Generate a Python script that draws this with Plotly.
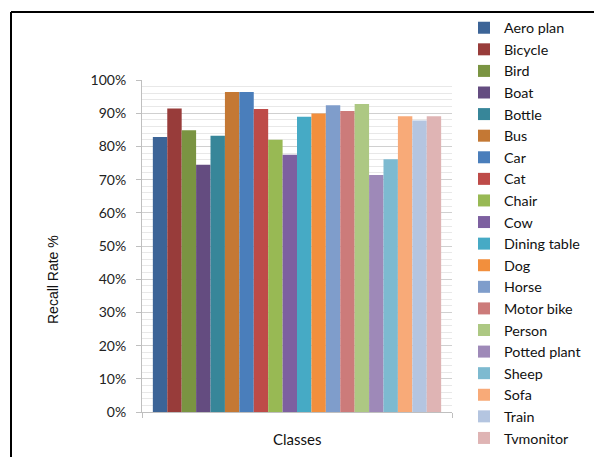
import plotly.graph_objects as go

classes = ["Aero plan", "Bicycle", "Bird", "Boat", "Bottle", "Bus", "Car", "Cat",
           "Chair", "Cow", "Dining table", "Dog", "Horse", "Motor bike", "Person",
           "Potted plant", "Sheep", "Sofa", "Train", "Tvmonitor"]
recall = [82.8, 91.4, 84.9, 74.5, 83.2, 96.4, 96.4, 91.3, 82.0, 77.5,
          88.9, 89.9, 92.4, 90.7, 92.8, 71.4, 76.1, 89.1, 87.8, 89.1]
colors = ["#3C6497", "#983C3A", "#7A9442", "#644C80", "#378699", "#C47834",
          "#4A7EBB", "#BE4B48", "#98B954", "#7D60A0", "#46AAC5", "#F28F3D",
          "#7F9DCB", "#CC7B7A", "#ADC883", "#9E89B8", "#7DBAD0", "#F8AA78",
          "#B4C5E0", "#DFB4B4"]

fig = go.Figure()
for i, (c, v, col) in enumerate(zip(classes, recall, colors)):
    fig.add_trace(go.Bar(x=[0], y=[v / 100], name=c, marker_color=col,
                         marker_line_width=0))

fig.update_layout(
    width=594, height=457,
    margin=dict(l=142, r=142, t=80, b=45, autoexpand=False),
    paper_bgcolor="white", plot_bgcolor="white",
    barmode="group", bargap=0.07, bargroupgap=0,
    font=dict(family="Lato", size=13, color="#222"),
    showlegend=True,
    legend=dict(x=(464 - 142) / 310, xanchor="left", y=1.205, yanchor="top",
                font=dict(family="Lato", size=14.3, color="#111"),
                itemwidth=30, bgcolor="rgba(0,0,0,0)", maxheight=460,
                traceorder="normal"),
    xaxis=dict(range=[-0.5, 0.5], tickvals=[-0.5, 0.5], ticktext=["", ""],
               ticks="outside", ticklen=5, tickcolor="#BFBFBF",
               showline=True, linecolor="#BFBFBF", linewidth=1,
               showgrid=False, zeroline=False, fixedrange=True),
    yaxis=dict(range=[0, 1], dtick=0.1, tickformat=".0%",
               ticks="outside", ticklen=5, tickcolor="#BFBFBF",
               showline=True, linecolor="#BFBFBF", linewidth=1,
               showgrid=True, gridcolor="#D0D0D0", gridwidth=1,
               minor=dict(dtick=0.02, showgrid=True, gridcolor="#E8E8E8", gridwidth=1),
               zeroline=False, ticklabelstandoff=7,
               tickfont=dict(family="Lato", size=14, color="#222")),
    annotations=[
        dict(text="Recall Rate %", xref="paper", yref="paper", x=(53 - 142) / 310,
             y=(412 - 280) / 332, showarrow=False, textangle=-90,
             font=dict(family="Liberation Sans", size=14, color="#111"),
             xanchor="center", yanchor="middle"),
        dict(text="Classes", xref="paper", yref="paper", x=(297 - 142) / 310,
             y=(412 - 439) / 332, showarrow=False,
             font=dict(family="Lato", size=15, color="#111"),
             xanchor="center", yanchor="middle"),
    ],
    shapes=[
        dict(type="line", xref="paper", yref="paper", x0=(11 - 142) / 310,
             x1=(600 - 142) / 310, y0=(412 - 12) / 332, y1=(412 - 12) / 332,
             line=dict(color="black", width=2)),
        dict(type="line", xref="paper", yref="paper", x0=(11 - 142) / 310,
             x1=(11 - 142) / 310, y0=(412 - 12) / 332, y1=(412 - 470) / 332,
             line=dict(color="black", width=2)),
    ],
)

fig.write_html("out.html", config={"displayModeBar": False},
               post_script="document.body.style.margin='0';document.body.style.overflow='hidden';")
